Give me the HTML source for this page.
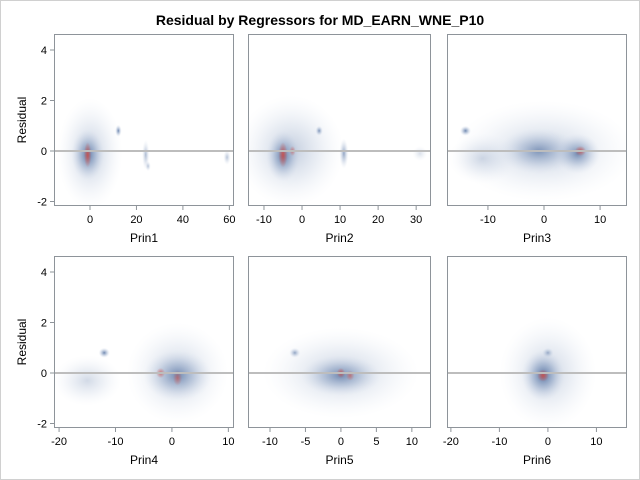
<!DOCTYPE html>
<html><head><meta charset="utf-8"><style>
html,body{margin:0;padding:0;background:#fff;}
svg{display:block;font-family:"Liberation Sans",Arial,sans-serif;}
</style></head><body>
<svg id="chart" width="640" height="480" viewBox="0 0 640 480">
<rect x="0.5" y="0.5" width="639" height="479" fill="#fff" stroke="#d0d0d0"/>
<text x="320" y="25" text-anchor="middle" font-size="14" font-weight="bold" fill="#000">Residual by Regressors for MD_EARN_WNE_P10</text>
<defs>
<radialGradient id="gb"><stop offset="0" stop-color="#4b6a9c" stop-opacity="1"/><stop offset="0.5" stop-color="#7f97bd" stop-opacity="0.5"/><stop offset="1" stop-color="#c8d3e6" stop-opacity="0"/></radialGradient>
<radialGradient id="gr"><stop offset="0" stop-color="#d0504a" stop-opacity="1"/><stop offset="1" stop-color="#d0504a" stop-opacity="0"/></radialGradient>
</defs>
<g id="plots"></g>
</svg>
<script>
// Panel names and axis domains
const panelNames = ["Prin1","Prin2","Prin3","Prin4","Prin5","Prin6"];
const xTicks = [[0,20,40,60],[-10,0,10,20,30],[-10,0,10],[-20,-10,0,10],[-10,-5,0,5,10],[-20,-10,0,10]];
const xMins = [-15.5,-14.2,-17.3,-20.9,-13.1,-20.8];
const xMaxs = [62,33.9,14.8,11,12.7,16.3];
const yTicks = [-2,0,2,4];
// Density blobs per panel: centre x, centre y, spread x, spread y, weight
const blobX = [[0,-1,12.2,24,25,59,-1],[-3,-5,11,4.5,31,-5,-2.5],[0,-1,6,-14,-11,6.5],[1,1,-15,-12,-2,1],[0,0,-6.5,0,1.3],[0,-1,0,-1]];
const blobY = [[-0.1,-0.15,0.8,-0.15,-0.6,-0.25,-0.15],[0,-0.2,-0.1,0.8,-0.1,-0.15,0],[0,0,-0.1,0.8,-0.3,0],[0,-0.1,-0.3,0.8,0,-0.2],[0,-0.1,0.8,0,-0.1],[0,-0.1,0.8,-0.1]];
const blobSX = [[7,3.5,0.7,0.8,0.6,0.8,0.8],[7,2.2,0.6,0.5,1,0.6,0.4],[8,3.5,2,0.5,3,0.5],[4.5,3,3,0.5,0.4,0.4],[5.5,2.8,0.4,0.3,0.3],[5,2.2,0.6,0.6]];
const blobSY = [[1.1,0.5,0.12,0.3,0.1,0.15,0.25],[1.1,0.5,0.3,0.1,0.15,0.25,0.1],[1.0,0.45,0.4,0.1,0.5,0.1],[1.0,0.5,0.5,0.1,0.1,0.15],[0.9,0.4,0.1,0.1,0.1],[1.1,0.5,0.1,0.12]];
const blobW = [[0.35,0.85,0.8,0.45,0.4,0.4,0.9],[0.35,0.85,0.6,0.7,0.2,0.9,0.6],[0.3,0.6,0.75,0.8,0.25,0.8],[0.3,0.7,0.25,0.8,0.7,0.6],[0.3,0.7,0.6,0.8,0.6],[0.3,0.9,0.5,0.9]];
const blobRed = [[0,0,0,0,0,0,1],[0,0,0,0,0,1,1],[0,0,0,0,0,1],[0,0,0,0,1,1],[0,0,0,1,1],[0,0,0,1]];

const NS="http://www.w3.org/2000/svg";
const g=document.getElementById('plots');
const lefts=[54,248,447], rights=[234,431,627], tops=[34,256], bottoms=[206,428];
function mk(t,a,p){const e=document.createElementNS(NS,t);for(const k in a)e.setAttribute(k,a[k]);(p||g).appendChild(e);return e;}
for(let i=0;i<6;i++){
  const col=i%3,row=Math.floor(i/3);
  const L=lefts[col],R=rights[col],T=tops[row],B=bottoms[row];
  const y0=row===0?151:373;
  const ys=v=>y0-v*25.25;
  const xs=v=>L+(v-xMins[i])/(xMaxs[i]-xMins[i])*(R-L);
  const pg=mk('g',{});
  
  
  const cp=mk('clipPath',{id:'c'+i},pg);
  mk('rect',{x:L,y:T,width:R-L,height:B-T},cp);
  const dg=mk('g',{'clip-path':'url(#c'+i+')'},pg);
  for(let j=0;j<blobX[i].length;j++){
    const e=mk('ellipse',{cx:xs(blobX[i][j]),cy:ys(blobY[i][j]),rx:Math.max(2,(xs(blobSX[i][j])-xs(0))*2),ry:Math.max(2,blobSY[i][j]*25.25*2),fill:blobRed[i][j]?'url(#gr)':'url(#gb)','fill-opacity':blobW[i][j]},dg);
    
    
  }
  const rl=mk('line',{x1:L,x2:R,y1:ys(0),y2:ys(0),stroke:'#bdbdbd','stroke-width':2},pg);
  
  
  const fr=mk('rect',{x:L+0.5,y:T+0.5,width:R-L-1,height:B-T-1,fill:'none',stroke:'#8e949a'},pg);
  
  
  xTicks[i].forEach(v=>{
    const x=xs(v);
    mk('line',{x1:x,x2:x,y1:B,y2:B+4,stroke:'#8e949a'},pg);
    const t=mk('text',{x:x,y:B+17,'text-anchor':'middle','font-size':11,fill:'#000'},pg);
    t.textContent=v;
    
    
  });
  const xl=mk('text',{x:(L+R)/2,y:B+36,'text-anchor':'middle','font-size':12,fill:'#000'},pg);
  xl.textContent=panelNames[i];
  
  
  if(col===0){
    yTicks.forEach(v=>{
      const y=ys(v);
      mk('line',{x1:L-4,x2:L,y1:y,y2:y,stroke:'#8e949a'},pg);
      const t=mk('text',{x:L-7,y:y+4,'text-anchor':'end','font-size':11,fill:'#000'},pg);
      t.textContent=v;
      
      
    });
    const yl=mk('text',{x:0,y:0,'text-anchor':'middle','font-size':12,fill:'#000',transform:'translate(26,'+((T+B)/2)+') rotate(-90)'},pg);
    yl.textContent='Residual';
    
    
  }
}
</script>
</body></html>
